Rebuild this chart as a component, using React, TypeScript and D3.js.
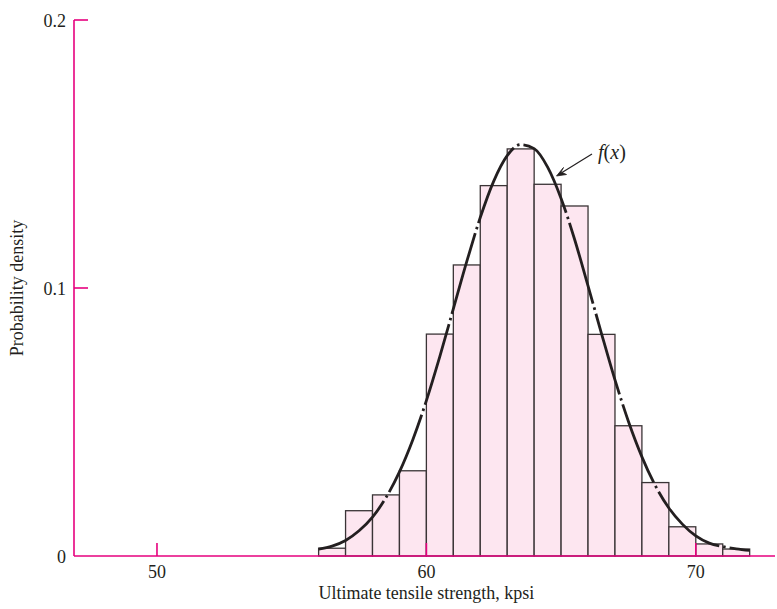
import * as d3 from "d3";

// histogram bins (lower edge, kpsi) and their densities
const binStarts = [56, 57, 58, 59, 60, 61, 62, 63, 64, 65, 66, 67, 68, 69, 70, 71];
const binDensity = [
  0.0029, 0.0169, 0.0228, 0.0318, 0.0828, 0.1086, 0.1382, 0.1519, 0.1387,
  0.1306, 0.0827, 0.0486, 0.0274, 0.0109, 0.0045, 0.0026,
];

// f(x)
const curveX = [
  56, 56.5, 57, 57.5, 58, 58.5, 59, 59.5, 60, 60.5, 61, 61.5, 62, 62.5, 63,
  63.5, 64, 64.5, 65, 65.5, 66, 66.5, 67, 67.5, 68, 68.5, 69, 69.5, 70, 70.5,
  71, 71.5, 72,
];
const curveY = [
  0.0026, 0.0037, 0.0058, 0.0094, 0.0145, 0.0218, 0.0314, 0.0435, 0.058,
  0.0745, 0.0922, 0.1099, 0.1263, 0.1399, 0.1494, 0.1535, 0.152, 0.1451,
  0.1334, 0.1182, 0.1008, 0.083, 0.0657, 0.0502, 0.037, 0.0262, 0.0179,
  0.0119, 0.0075, 0.0048, 0.0035, 0.0027, 0.0021,
];

const xTicks = [50, 60, 70];
const yTicks = [0.1, 0.2];

const width = 777;
const height = 609;
const axisColor = "#e6007e";
const font = "'Liberation Serif', 'DejaVu Serif', serif";

export default function App() {
  const x = d3.scaleLinear().domain([46.92, 72.94]).range([74, 775]);
  const y = d3.scaleLinear().domain([0, 0.2]).range([556, 20]);
  const binW = x(1) - x(0);

  const pts = curveX.map((v, i) => [v, curveY[i]] as [number, number]);
  const line = d3
    .line<[number, number]>()
    .x((d) => x(d[0]))
    .y((d) => y(d[1]))
    .curve(d3.curveMonotoneX);

  return (
    <svg
      width={width}
      height={height}
      style={{ position: "absolute", left: 0, top: 0, background: "#fff" }}
      fontFamily={font}
    >
      <g>
        {binStarts.map((b, i) => (
          <rect
            key={b}
            x={x(b)}
            y={y(binDensity[i])}
            width={binW}
            height={y(0) - y(binDensity[i])}
            fill="#fde6f0"
            stroke="#3a3436"
            strokeWidth={1.3}
          />
        ))}
      </g>

      <path
        d={line(pts) || ""}
        fill="none"
        stroke="#231f20"
        strokeWidth={2.8}
        strokeDasharray="84 4 2.5 4"
      />

      {/* axes */}
      <g stroke={axisColor} strokeWidth={1.6} fill="none">
        <line x1={x.range()[0]} x2={x.range()[1]} y1={y(0)} y2={y(0)} />
        <line x1={x.range()[0]} x2={x.range()[0]} y1={y(0)} y2={y(0.2)} />
        {yTicks.map((t) => (
          <line key={t} x1={x.range()[0]} x2={x.range()[0] + 14} y1={y(t)} y2={y(t)} />
        ))}
        {xTicks.map((t) => (
          <line key={t} x1={x(t)} x2={x(t)} y1={y(0)} y2={y(0) - 13} />
        ))}
      </g>

      <g fontSize={18} fill="#231f20">
        {[0, ...yTicks].map((t) => (
          <text key={t} x={66} y={y(t) + 6.8} textAnchor="end">
            {t === 0 ? "0" : t.toFixed(1)}
          </text>
        ))}
        {xTicks.map((t) => (
          <text key={t} x={x(t)} y={578} textAnchor="middle">
            {t}
          </text>
        ))}
        <text x={x(60)} y={599} textAnchor="middle">
          Ultimate tensile strength, kpsi
        </text>
        <text transform={`translate(23,${y(0.1)}) rotate(-90)`} textAnchor="middle">
          Probability density
        </text>
        <text x={598} y={159} fontSize={20}>
          <tspan fontStyle="italic">f</tspan>(<tspan fontStyle="italic">x</tspan>)
        </text>
      </g>

      {/* arrow to the curve */}
      <line x1={592} y1={154} x2={562} y2={172.5} stroke="#231f20" strokeWidth={1.2} />
      <path d="M556.5,176 L563.5,167.5 L561,172 L566.5,174.5 Z" fill="#231f20" stroke="#231f20" strokeWidth={0.8} strokeLinejoin="miter" />
    </svg>
  );
}
